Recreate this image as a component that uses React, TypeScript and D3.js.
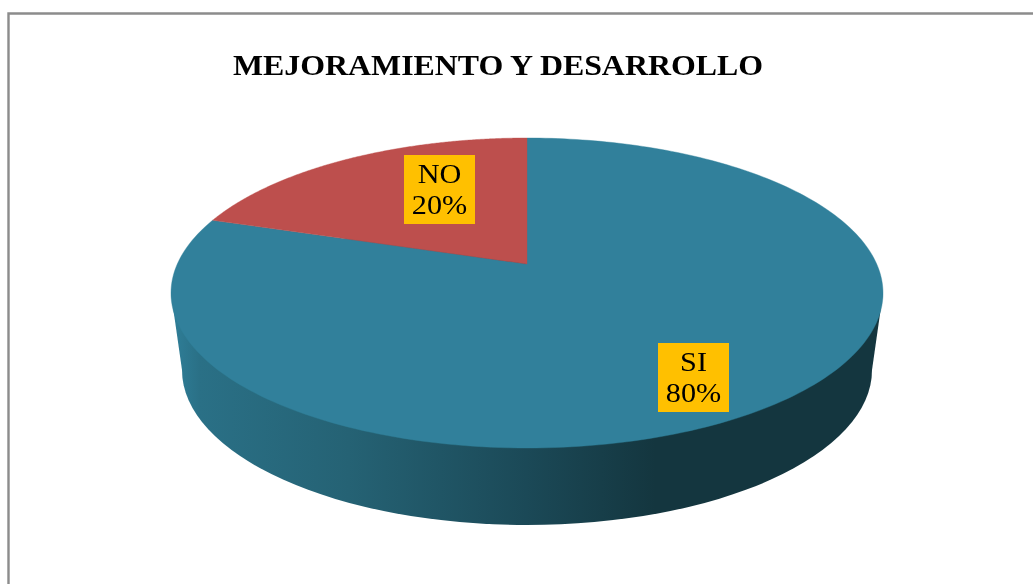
import React from "react";
import * as d3 from "d3";

const categories = ["SI", "NO"];
const values = [80, 20];
const percentLabels = ["80%", "20%"];
const chartTitle = "MEJORAMIENTO Y DESARROLLO";
const sliceColors = ["#31809b", "#bd4f4d"];
const sideStops: [number, string][] = [
  [0, "#2f7f99"],
  [0.04, "#2a7086"],
  [0.25, "#256274"],
  [0.5, "#1b4957"],
  [0.68, "#14363f"],
  [1, "#14363f"],
];

const W = 1033;
const H = 584;
const cx = 527;
const cy = 293;
const rx = 356;
const ry = 155;
const apexY = 264;
const depth = 77;
const baseRx = 345;
const baseRy = 155;

// Perspective projection of the unit disc onto the top ellipse, sending the centre to the apex
const v0 = (apexY - cy) / ry;
const project = (a: number): [number, number] => {
  const u = Math.sin(a);
  const v = -Math.cos(a);
  const k = 1 + v * v0;
  return [cx + rx * (u * Math.sqrt(1 - v0 * v0)) / k, cy + ry * (v + v0) / k];
};

const arcs = d3.pie<number>().sort(null)(values);
const line = d3.line();

const slicePath = (start: number, end: number) => {
  const steps = d3.range(0, 241).map((i) => start + ((end - start) * i) / 240);
  const pts = steps.map(project);
  return line([[cx, apexY], ...pts])! + "Z";
};

const labelBoxes = [
  { x: 658, y: 343 },
  { x: 404, y: 155 },
];

export default function App() {
  return (
    <svg
      width={W}
      height={H}
      style={{ position: "absolute", left: 0, top: 0, display: "block" }}
      fontFamily="'Liberation Serif', serif"
    >
      <defs>
        <linearGradient id="side" gradientUnits="userSpaceOnUse" x1={171} x2={883} y1={0} y2={0}>
          {sideStops.map(([o, c]) => (
            <stop key={o} offset={o} stopColor={c} />
          ))}
        </linearGradient>
        <filter id="soft" x="-5%" y="-5%" width="110%" height="110%">
          <feGaussianBlur stdDeviation="0.35" />
        </filter>
      </defs>
      <rect width={W} height={H} fill="#ffffff" />
      <path d={`M8.5 ${H + 2}V13.5H${W + 2}`} fill="none" stroke="#8c8c8c" strokeWidth={2.4} />
      <text
        x={498}
        y={75}
        textAnchor="middle"
        fontSize={29}
        fontWeight="bold"
        fill="#000"
        filter="url(#soft)"
        textLength={530}
        lengthAdjust="spacingAndGlyphs"
      >
        {chartTitle}
      </text>
      <g>
        <ellipse cx={cx} cy={cy + depth} rx={baseRx} ry={baseRy} fill="url(#side)" />
        <path
          d={`M${cx - rx} ${cy}L${cx - baseRx} ${cy + depth}H${cx + baseRx}L${cx + rx} ${cy}Z`}
          fill="url(#side)"
        />
        {arcs.map((a, i) => (
          <path
            key={categories[i]}
            d={slicePath(a.startAngle, a.endAngle)}
            fill={sliceColors[i]}
            stroke={sliceColors[i]}
            strokeWidth={0.4}
          />
        ))}
      </g>
      {categories.map((c, i) => (
        <g key={c}>
          <rect x={labelBoxes[i].x} y={labelBoxes[i].y} width={71} height={69} fill="#ffc000" />
          <g
            textAnchor="middle"
            fontSize={27}
            fill="#000"
            filter="url(#soft)"
            transform={`translate(${labelBoxes[i].x + 35.5} ${labelBoxes[i].y}) scale(1.12 1)`}
          >
            <text x={0} y={28}>{c}</text>
            <text x={0} y={59}>{percentLabels[i]}</text>
          </g>
        </g>
      ))}
    </svg>
  );
}
